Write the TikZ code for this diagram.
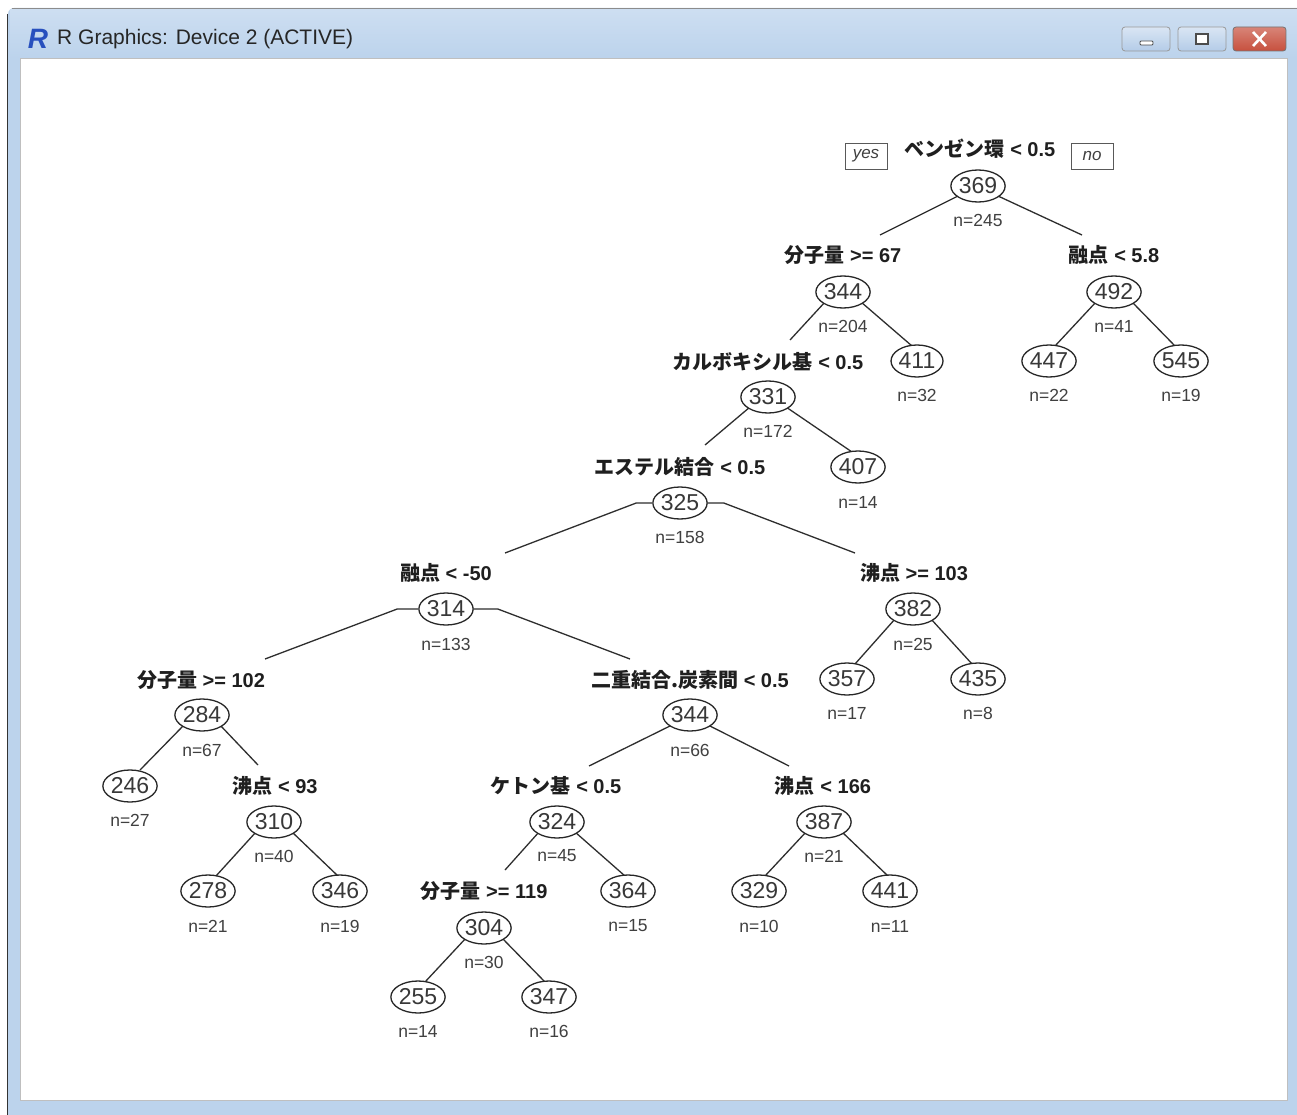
\documentclass[tikz,border=0pt]{standalone}
\usepackage{fontspec}
\setmainfont{Liberation Sans}
\newfontfamily\jpf{Noto Sans CJK JP}
\usetikzlibrary{shapes.geometric,calc}
\pgfdeclarelayer{framelayer}
\pgfdeclarelayer{edgelayer}
\pgfsetlayers{framelayer,edgelayer,main}
\definecolor{frameblue}{RGB}{188,211,236}
\definecolor{frametop}{RGB}{205,222,241}
\definecolor{btnblue}{RGB}{180,204,232}
\definecolor{closered}{RGB}{199,80,62}
\definecolor{rblue}{RGB}{40,80,190}
\newcommand\jt[1]{{\jpf #1}}
\tikzset{
  val/.style={ellipse, draw=black!85, line width=1.3pt, fill=white, minimum width=52pt, minimum height=32pt, inner sep=0pt, font=\fontsize{23}{23}\selectfont, text=black!78},
  cnt/.style={inner sep=0pt, font=\fontsize{17.5}{18}\selectfont, text=black!75},
  splitlab/.style={inner sep=1pt, font=\fontsize{20}{22}\selectfont\bfseries, text=black!88},
  edge/.style={line width=1.3pt, draw=black!82},
  yn/.style={draw=black!65, line width=0.9pt, font=\fontsize{17}{17}\selectfont\itshape, text=black!75, inner sep=2pt, minimum width=42pt, minimum height=26pt},
  btn/.style={draw=black!40, line width=0.8pt, rounded corners=3pt}
}
\begin{document}
\begin{tikzpicture}[x=1pt,y=-1pt]
\useasboundingbox (0,0) rectangle (1297,1115);
\begin{pgfonlayer}{framelayer}
  \fill[white] (0,0) rectangle (1297,1115);
  \fill[frameblue, rounded corners=6pt] (8,8) rectangle (1310,1130);
  \shade[top color=frametop, bottom color=frameblue] (10,10) rectangle (1297,58);
  \draw[black!45, line width=0.8pt] (12,8.5) -- (1297,8.5);
  \draw[black!80, line width=1.6pt] (7.5,14) -- (7.5,1115);
  \fill[white] (20,58) rectangle (1287,1100);
  \draw[black!25, line width=0.6pt] (20,58) rectangle (1287,1100);
  % buttons
  \draw[btn, top color=white!50!btnblue, bottom color=btnblue] (1122,27) rectangle (1170,51);
  \draw[black!70, fill=white, line width=0.8pt, rounded corners=1pt] (1140,41) rectangle (1153,45);
  \draw[btn, top color=white!50!btnblue, bottom color=btnblue] (1178,27) rectangle (1226,51);
  \draw[black!70, fill=white, line width=1.5pt] (1196,34) rectangle (1208,44);
  \draw[btn, draw=black!55, top color=closered!70!white, bottom color=closered] (1233,27) rectangle (1286,51);
  \draw[white, line width=2.6pt] (1253,32) -- (1266,46) (1266,32) -- (1253,46);
\end{pgfonlayer}
% title bar text
\node[font=\fontsize{28}{28}\selectfont\bfseries\itshape, text=rblue, inner sep=0pt] (rlogo) at (38,39) {R};
\node[anchor=west, font=\fontsize{21}{21}\selectfont, text=black!85, inner sep=0pt] (title) at (57,39) {R Graphics: Device 2 (ACTIVE)};

% yes/no
\node[yn] (yes) at (866,156) {yes};
\node[yn] (no) at (1092,156) {no};

% split labels
\node[splitlab] (l369) at (980,149) {\jt{ベンゼン環} < 0.5};
\node[splitlab] (l344) at (843,255) {\jt{分子量} >= 67};
\node[splitlab] (l492) at (1114,255) {\jt{融点} < 5.8};
\node[splitlab] (l331) at (768,362) {\jt{カルボキシル基} < 0.5};
\node[splitlab] (l325) at (680,467) {\jt{エステル結合} < 0.5};
\node[splitlab] (l314) at (446,573) {\jt{融点} < -50};
\node[splitlab] (l382) at (914,573) {\jt{沸点} >= 103};
\node[splitlab] (l284) at (201,680) {\jt{分子量} >= 102};
\node[splitlab] (l344b) at (690,680) {\jt{二重結合.炭素間} < 0.5};
\node[splitlab] (l310) at (275,786) {\jt{沸点} < 93};
\node[splitlab] (l324) at (556,786) {\jt{ケトン基} < 0.5};
\node[splitlab] (l387) at (823,786) {\jt{沸点} < 166};
\node[splitlab] (l304) at (484,891) {\jt{分子量} >= 119};

% value nodes
\node[val] (v369) at (978,186) {369};
\node[val] (v344) at (843,292) {344};
\node[val] (v492) at (1114,292) {492};
\node[val] (v447) at (1049,361) {447};
\node[val] (v545) at (1181,361) {545};
\node[val] (v331) at (768,397) {331};
\node[val] (v411) at (917,361) {411};
\node[val] (v325) at (680,503) {325};
\node[val] (v407) at (858,467) {407};
\node[val] (v314) at (446,609) {314};
\node[val] (v382) at (913,609) {382};
\node[val] (v357) at (847,679) {357};
\node[val] (v435) at (978,679) {435};
\node[val] (v284) at (202,715) {284};
\node[val] (v344b) at (690,715) {344};
\node[val] (v246) at (130,786) {246};
\node[val] (v310) at (274,822) {310};
\node[val] (v278) at (208,891) {278};
\node[val] (v346) at (340,891) {346};
\node[val] (v324) at (557,822) {324};
\node[val] (v387) at (824,822) {387};
\node[val] (v304) at (484,928) {304};
\node[val] (v364) at (628,891) {364};
\node[val] (v329) at (759,891) {329};
\node[val] (v441) at (890,891) {441};
\node[val] (v255) at (418,997) {255};
\node[val] (v347) at (549,997) {347};

% counts
\node[cnt] (n245) at (978,220) {n=245};
\node[cnt] (n204) at (843,326) {n=204};
\node[cnt] (n41) at (1114,326) {n=41};
\node[cnt] (n22) at (1049,395) {n=22};
\node[cnt] (n19a) at (1181,395) {n=19};
\node[cnt] (n172) at (768,431) {n=172};
\node[cnt] (n32) at (917,395) {n=32};
\node[cnt] (n158) at (680,537) {n=158};
\node[cnt] (n14a) at (858,502) {n=14};
\node[cnt] (n133) at (446,644) {n=133};
\node[cnt] (n25) at (913,644) {n=25};
\node[cnt] (n17) at (847,713) {n=17};
\node[cnt] (n8) at (978,713) {n=8};
\node[cnt] (n67) at (202,750) {n=67};
\node[cnt] (n66) at (690,750) {n=66};
\node[cnt] (n27) at (130,820) {n=27};
\node[cnt] (n40) at (274,856) {n=40};
\node[cnt] (n21a) at (208,926) {n=21};
\node[cnt] (n19b) at (340,926) {n=19};
\node[cnt] (n45) at (557,856) {n=45};
\node[cnt] (n21b) at (824,856) {n=21};
\node[cnt] (n30) at (484,962) {n=30};
\node[cnt] (n15) at (628,926) {n=15};
\node[cnt] (n10) at (759,926) {n=10};
\node[cnt] (n11) at (890,926) {n=11};
\node[cnt] (n14b) at (418,1031) {n=14};
\node[cnt] (n16) at (549,1031) {n=16};

\begin{pgfonlayer}{edgelayer}
  \draw[edge] ($(v369)+(-20,10)$) -- ($(l344)+(37,-20)$);
  \draw[edge] ($(v369)+(20,10)$) -- ($(l492)+(-32,-20)$);
  \draw[edge] ($(v344)+(-18,10)$) -- ($(l331)+(22,-22)$);
  \draw[edge] ($(v344)+(18,10)$) -- ($(v411)+(-5,-15)$);
  \draw[edge] ($(v492)+(-18,10)$) -- ($(v447)+(6,-15)$);
  \draw[edge] ($(v492)+(18,10)$) -- ($(v545)+(-6,-15)$);
  \draw[edge] ($(v331)+(-18,10)$) -- ($(l325)+(25,-22)$);
  \draw[edge] ($(v331)+(18,10)$) -- ($(v407)+(-6,-15)$);
  \draw[edge] (v325.west) -- ++(-16,0) -- ($(l314)+(59,-20)$);
  \draw[edge] (v325.east) -- ++(16,0) -- ($(l382)+(-59,-20)$);
  \draw[edge] (v314.west) -- ++(-21,0) -- ($(l284)+(64,-21)$);
  \draw[edge] (v314.east) -- ++(24,0) -- ($(l344b)+(-60,-21)$);
  \draw[edge] ($(v382)+(-18,10)$) -- ($(v357)+(8,-15)$);
  \draw[edge] ($(v382)+(18,10)$) -- ($(v435)+(-6,-15)$);
  \draw[edge] ($(v284)+(-18,10)$) -- ($(v246)+(10,-16)$);
  \draw[edge] ($(v284)+(18,10)$) -- ($(l310)+(-17,-21)$);
  \draw[edge] ($(v310)+(-18,10)$) -- ($(v278)+(8,-15)$);
  \draw[edge] ($(v310)+(18,10)$) -- ($(v346)+(-2,-15)$);
  \draw[edge] ($(v344b)+(-18,10)$) -- ($(l324)+(33,-20)$);
  \draw[edge] ($(v344b)+(18,10)$) -- ($(l387)+(-34,-20)$);
  \draw[edge] ($(v324)+(-18,10)$) -- ($(l304)+(21,-21)$);
  \draw[edge] ($(v324)+(18,10)$) -- ($(v364)+(-3,-15)$);
  \draw[edge] ($(v387)+(-18,10)$) -- ($(v329)+(6,-15)$);
  \draw[edge] ($(v387)+(18,10)$) -- ($(v441)+(-2,-15)$);
  \draw[edge] ($(v304)+(-18,10)$) -- ($(v255)+(7,-15)$);
  \draw[edge] ($(v304)+(18,10)$) -- ($(v347)+(-4,-15)$);
\end{pgfonlayer}
\end{tikzpicture}
\end{document}
